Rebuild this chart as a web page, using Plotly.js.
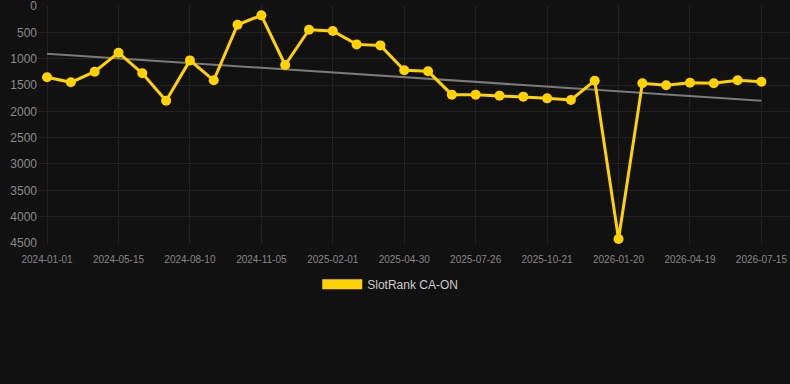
<!DOCTYPE html>
<html>
<head>
<meta charset="utf-8">
<script src="https://cdn.plot.ly/plotly-3.0.1.min.js"></script>
<style>
html,body{margin:0;padding:0;background:#111111;}
#chart{width:790px;height:384px;}
</style>
</head>
<body>
<div id="chart"></div>
<script>
const dates = [
  "2024-01-01","2024-02-15","2024-03-31","2024-05-15","2024-06-13","2024-07-12",
  "2024-08-10","2024-09-08","2024-10-07","2024-11-05","2024-12-04","2025-01-02",
  "2025-02-01","2025-03-01","2025-03-31","2025-04-30","2025-05-29","2025-06-27",
  "2025-07-26","2025-08-24","2025-09-22","2025-10-21","2025-11-20","2025-12-21",
  "2026-01-20","2026-02-18","2026-03-20","2026-04-19","2026-05-18","2026-06-16",
  "2026-07-15"
];
const ranks = [
  1354,1449,1247,886,1278,1797,
  1032,1411,355,177,1120,449,
  475,728,747,1221,1240,1683,
  1683,1702,1721,1753,1785,1418,
  4424,1468,1506,1456,1468,1411,
  1437
];
const tickDates = ["2024-01-01","2024-05-15","2024-08-10","2024-11-05","2025-02-01",
  "2025-04-30","2025-07-26","2025-10-21","2026-01-20","2026-04-19","2026-07-15"];
const yTicks = [0,500,1000,1500,2000,2500,3000,3500,4000,4500];
const seriesName = "SlotRank CA-ON";

// least squares trend over point index
const n = ranks.length;
let sx=0, sy=0, sxx=0, sxy=0;
ranks.forEach((v,i)=>{sx+=i; sy+=v; sxx+=i*i; sxy+=i*v;});
const slope = (n*sxy - sx*sy)/(n*sxx - sx*sx);
const icpt = (sy - slope*sx)/n;
const trend = ranks.map((v,i)=>icpt + slope*i);

const gold = "#FFD200";
const traces = [
  {x: dates, y: trend, type: "scatter", mode: "lines",
   line: {color: "#7a7a7a", width: 2}, showlegend: false, hoverinfo: "skip"},
  {x: dates, y: ranks, type: "scatter", mode: "lines+markers",
   line: {color: gold, width: 3}, marker: {color: gold, size: 10},
   showlegend: false, name: seriesName, cliponaxis: false},
  {x: [dates[0]], y: [null], type: "scatter", mode: "lines",
   line: {color: gold, width: 10}, name: seriesName, showlegend: true}
];

const layout = {
  width: 790, height: 384,
  paper_bgcolor: "#111111", plot_bgcolor: "#111111",
  margin: {l: 38, r: 0, t: 6, b: 141},
  font: {family: "Liberation Sans, Arial, sans-serif", color: "#888"},
  xaxis: {
    type: "category", categoryorder: "array", categoryarray: dates,
    range: [-0.38, 31.2],
    tickmode: "array", tickvals: tickDates, ticktext: tickDates,
    tickfont: {size: 10, color: "#858585"},
    gridcolor: "#222222", gridwidth: 1, showline: false, zeroline: false,
    ticks: "", ticklen: 0, ticklabelstandoff: 9
  },
  yaxis: {
    range: [4501, -1], autorange: false,
    tickmode: "array", tickvals: yTicks, ticktext: yTicks.map(String),
    tickfont: {size: 12, color: "#8a8a8a"},
    gridcolor: "#222222", gridwidth: 1, zeroline: false, showline: false,
    ticks: "", ticklen: 0, ticklabeloverflow: "allow"
  },
  showlegend: true,
  legend: {
    orientation: "h", xref: "container", x: 0.494, xanchor: "center",
    yref: "container", y: 0.26, yanchor: "middle",
    font: {size: 12, color: "#cccccc"}, itemwidth: 40,
    bgcolor: "rgba(0,0,0,0)"
  }
};

Plotly.newPlot("chart", traces, layout, {displayModeBar: false, staticPlot: true});
</script>
</body>
</html>
